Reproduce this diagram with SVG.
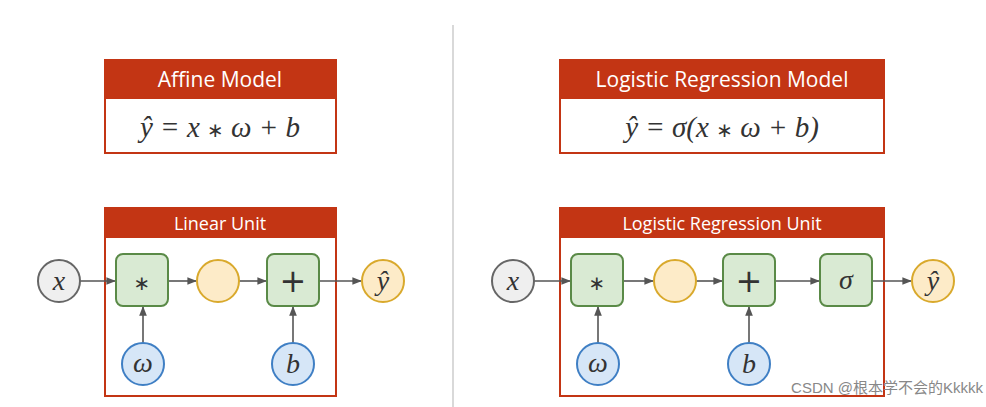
<svg xmlns="http://www.w3.org/2000/svg" width="986" height="407" viewBox="0 0 986 407">
<defs>
<style>
.hdr{fill:#c33514}
.frame{fill:#fff;stroke:#c33514;stroke-width:2}
.ht{font-family:"Open Sans","Liberation Sans",sans-serif;fill:#fff;text-anchor:middle}
.m{font-family:"Liberation Serif",serif;font-style:italic;text-anchor:middle;fill:#333}
.s{font-family:"DejaVu Sans",sans-serif;text-anchor:middle;fill:#333}
.op{fill:#d9ead3;stroke:#5a8a47;stroke-width:2}
.yc{fill:#fdebc8;stroke:#d9a92c;stroke-width:2}
.bc{fill:#d6e6f7;stroke:#3f7fc4;stroke-width:2}
.gc{fill:#efefef;stroke:#666;stroke-width:2}
.ln{stroke:#555;stroke-width:1.6;fill:none;marker-end:url(#a)}
</style>
<marker id="a" viewBox="0 0 10 10" refX="9" refY="5" markerWidth="6" markerHeight="6" orient="auto"><path d="M0,1 L10,5 L0,9 z" fill="#555"/></marker>
</defs>
<rect width="986" height="407" fill="#fff"/>
<line x1="453" y1="25" x2="453" y2="407" stroke="#ccc" stroke-width="1.5"/>
<g id="affine">
<rect class="frame" x="105" y="60" width="231" height="93"/>
<rect class="hdr" x="105" y="60" width="231" height="39"/>
<text class="ht" x="220" y="87" font-size="21">Affine Model</text>
<text class="m" x="220" y="137" font-size="29">ŷ = x <tspan class="s" font-style="normal" font-size="20">∗</tspan> ω + b</text>
</g>
<g id="logistic">
<rect class="frame" x="560" y="60" width="324" height="93"/>
<rect class="hdr" x="560" y="60" width="324" height="39"/>
<text class="ht" x="722" y="87" font-size="21">Logistic Regression Model</text>
<text class="m" x="722" y="137" font-size="29">ŷ = σ(x <tspan class="s" font-style="normal" font-size="20">∗</tspan> ω + b)</text>
</g>
<g id="linearUnit">
<rect class="frame" x="105" y="208" width="231" height="188"/>
<rect class="hdr" x="105" y="208" width="231" height="30"/>
<text class="ht" x="220" y="230" font-size="18">Linear Unit</text>
</g>
<g id="logUnit">
<rect class="frame" x="560" y="208" width="324" height="188"/>
<rect class="hdr" x="560" y="208" width="324" height="30"/>
<text class="ht" x="722" y="230" font-size="18">Logistic Regression Unit</text>
</g>
<g id="connectors">
<line class="ln" x1="80" y1="281" x2="115" y2="281"/>
<line class="ln" x1="168" y1="281" x2="196" y2="281"/>
<line class="ln" x1="239" y1="281" x2="266" y2="281"/>
<line class="ln" x1="319" y1="281" x2="361" y2="281"/>
<line class="ln" x1="143" y1="343" x2="143" y2="307"/>
<line class="ln" x1="293" y1="343" x2="293" y2="307"/>
<line class="ln" x1="534" y1="281" x2="570" y2="281"/>
<line class="ln" x1="623" y1="281" x2="653" y2="281"/>
<line class="ln" x1="696" y1="281" x2="722" y2="281"/>
<line class="ln" x1="775" y1="281" x2="819" y2="281"/>
<line class="ln" x1="872" y1="281" x2="911" y2="281"/>
<line class="ln" x1="598" y1="343" x2="598" y2="307"/>
<line class="ln" x1="749" y1="343" x2="749" y2="307"/>
</g>
<g id="x1"><circle class="gc" cx="59" cy="281" r="21"/><text class="m" x="59" y="290" font-size="28">x</text></g>
<g id="mul1"><rect class="op" x="116" y="254" width="52" height="52" rx="7"/><text class="s" x="142" y="290" font-size="20">∗</text></g>
<g id="mid1"><circle class="yc" cx="218" cy="281" r="21"/></g>
<g id="add1"><rect class="op" x="267" y="254" width="52" height="52" rx="7"/><text class="s" x="293" y="292" font-size="32">+</text></g>
<g id="yhat1"><circle class="yc" cx="383" cy="281" r="21"/><text class="m" x="383" y="290" font-size="28">ŷ</text></g>
<g id="w1"><circle class="bc" cx="143" cy="364" r="21"/><text class="m" x="143" y="372" font-size="28">ω</text></g>
<g id="b1"><circle class="bc" cx="293" cy="364" r="21"/><text class="m" x="293" y="373" font-size="28">b</text></g>
<g id="x2"><circle class="gc" cx="513" cy="281" r="21"/><text class="m" x="513" y="290" font-size="28">x</text></g>
<g id="mul2"><rect class="op" x="571" y="254" width="52" height="52" rx="7"/><text class="s" x="597" y="290" font-size="20">∗</text></g>
<g id="mid2"><circle class="yc" cx="675" cy="281" r="21"/></g>
<g id="add2"><rect class="op" x="723" y="254" width="52" height="52" rx="7"/><text class="s" x="749" y="292" font-size="32">+</text></g>
<g id="sig"><rect class="op" x="820" y="254" width="52" height="52" rx="7"/><text class="m" x="846" y="289" font-size="28">σ</text></g>
<g id="yhat2"><circle class="yc" cx="933" cy="281" r="21"/><text class="m" x="933" y="290" font-size="28">ŷ</text></g>
<g id="w2"><circle class="bc" cx="598" cy="364" r="21"/><text class="m" x="598" y="372" font-size="28">ω</text></g>
<g id="b2"><circle class="bc" cx="749" cy="364" r="21"/><text class="m" x="749" y="373" font-size="28">b</text></g>
<text x="983" y="393" text-anchor="end" font-size="15" fill="#888" font-family="'Liberation Sans','Noto Sans CJK SC',sans-serif">CSDN @根本学不会的Kkkkk</text>
</svg>
